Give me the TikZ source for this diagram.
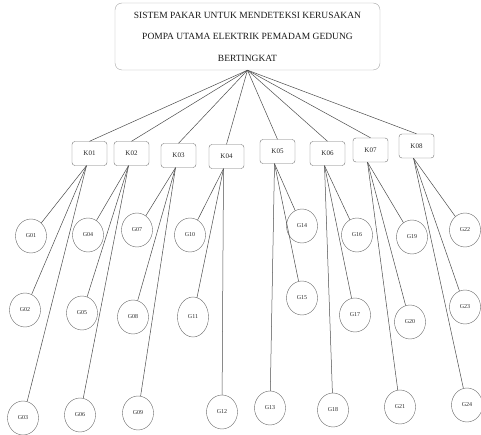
\documentclass[tikz,border=0pt]{standalone}
\usepackage{fontspec}
\setmainfont{Liberation Serif}
\usetikzlibrary{shapes.geometric}
\tikzset{
  rootbox/.style={draw=black!35, rounded corners=7pt, minimum width=265pt, minimum height=67pt,
    align=center, font=\fontsize{9.5}{21.5}\selectfont, text=black!90, inner sep=0pt},
  kbox/.style={draw=black!55, rounded corners=3pt, minimum width=35pt, minimum height=24pt,
    font=\fontsize{7}{8}\selectfont, text=black!85, inner sep=0pt},
  gnode/.style={draw=black!60, ellipse, minimum width=31pt, minimum height=34pt,
    font=\fontsize{6}{7}\selectfont, text=black!85, inner sep=0pt},
  link/.style={draw=black!70, line width=0.5pt}
}
\begin{document}
\begin{tikzpicture}[x=1pt,y=-1pt]
\useasboundingbox (0,0) rectangle (481,435);

% top goal
\node[rootbox] (root) at (247.5,36.5) {SISTEM PAKAR UNTUK MENDETEKSI KERUSAKAN\\POMPA UTAMA ELEKTRIK PEMADAM GEDUNG\\BERTINGKAT};

% damage types
\node[kbox] (K01) at (89.5,153.5) {K01};
\node[kbox] (K02) at (131.5,153.5) {K02};
\node[kbox] (K03) at (178.5,155.5) {K03};
\node[kbox] (K04) at (226.5,156.5) {K04};
\node[kbox] (K05) at (277.5,151.5) {K05};
\node[kbox] (K06) at (327.5,153.5) {K06};
\node[kbox] (K07) at (370.5,150) {K07};
\node[kbox] (K08) at (416.5,146) {K08};

% symptoms
\node[gnode] (G01) at (31,236) {G01};
\node[gnode] (G02) at (25,310) {G02};
\node[gnode] (G03) at (23,418) {G03};
\node[gnode] (G04) at (88,235) {G04};
\node[gnode] (G05) at (82,313) {G05};
\node[gnode] (G06) at (80,415) {G06};
\node[gnode] (G07) at (137,230) {G07};
\node[gnode] (G08) at (133,317) {G08};
\node[gnode] (G09) at (138,413) {G09};
\node[gnode] (G10) at (190,235) {G10};
\node[gnode, minimum height=40pt] (G11) at (193,317) {G11};
\node[gnode] (G12) at (222,412) {G12};
\node[gnode] (G14) at (302,226) {G14};
\node[gnode] (G15) at (302,298) {G15};
\node[gnode] (G13) at (270,408) {G13};
\node[gnode] (G16) at (357,235) {G16};
\node[gnode] (G17) at (355,315) {G17};
\node[gnode] (G18) at (333,410) {G18};
\node[gnode] (G19) at (412,237) {G19};
\node[gnode] (G20) at (410,322) {G20};
\node[gnode] (G21) at (400,407) {G21};
\node[gnode] (G22) at (465,230) {G22};
\node[gnode] (G23) at (465,307) {G23};
\node[gnode] (G24) at (467,405) {G24};

% goal to damage types
\foreach \k in {K01,K02,K03,K04,K05,K06,K07,K08}
  \draw[link] (root.south) -- (\k.north);

% damage types to symptoms
\foreach \k/\a/\b/\c in {K01/G01/G02/G03, K02/G04/G05/G06, K03/G07/G08/G09,
    K04/G10/G11/G12, K05/G14/G15/G13, K06/G16/G17/G18, K07/G19/G20/G21, K08/G22/G23/G24}{
  \draw[link] ([xshift=-3pt]\k.south) -- (\a);
  \draw[link] ([xshift=-3pt]\k.south) -- (\b);
  \draw[link] ([xshift=-3pt]\k.south) -- (\c);
}
\end{tikzpicture}
\end{document}
